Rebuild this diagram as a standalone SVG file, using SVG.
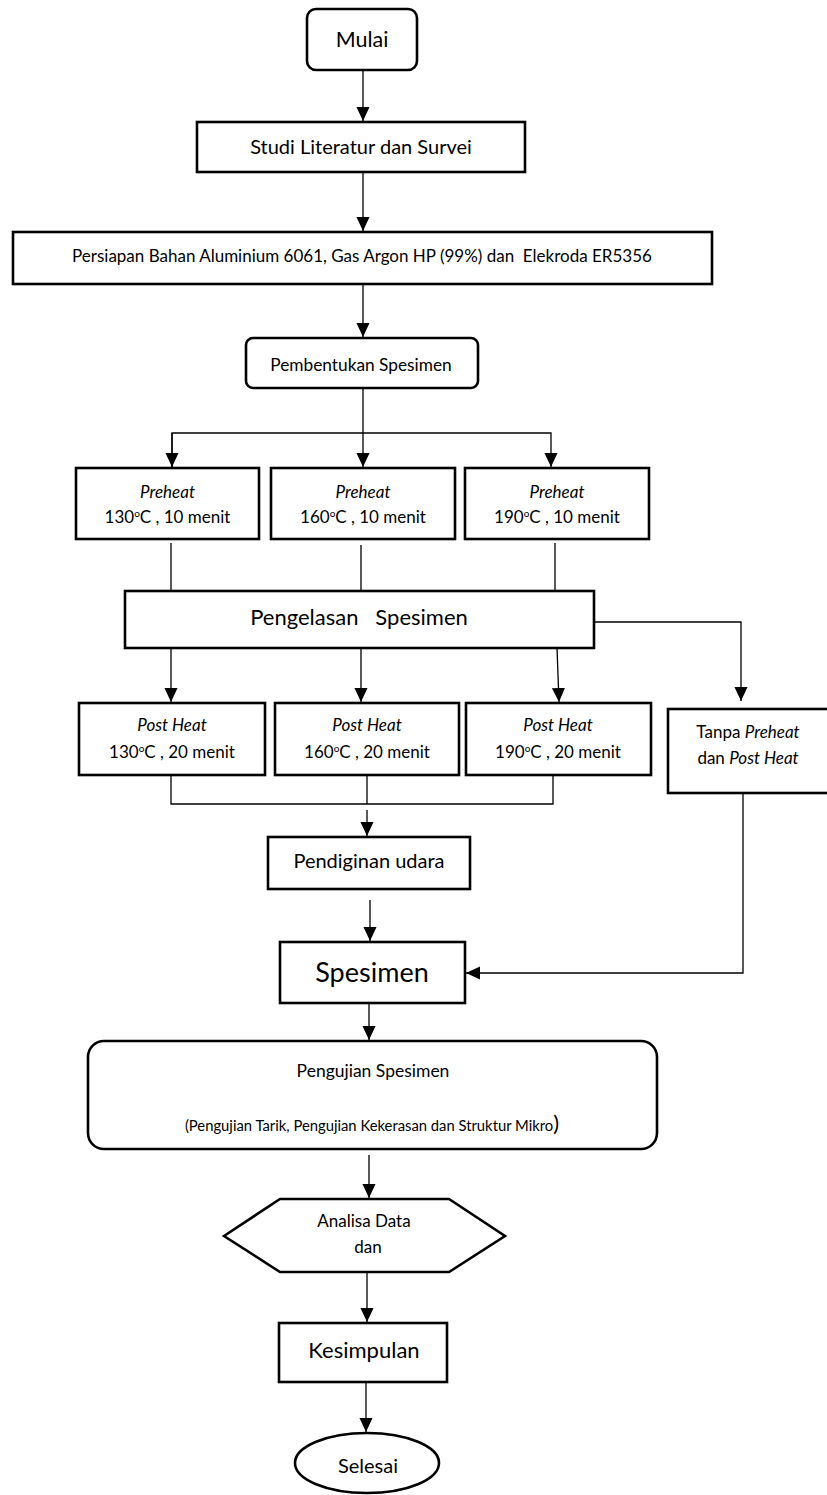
<svg xmlns="http://www.w3.org/2000/svg" width="827" height="1495" viewBox="0 0 827 1495">
<style>
.box{fill:#fff;stroke:#000;stroke-width:2.6}
.ln{fill:none;stroke:#000;stroke-width:1.3}
.t{font-family:Lato,"Liberation Sans",sans-serif;fill:#000;text-anchor:middle}
.i{font-style:italic}
</style>
<defs>
<marker id="ah" markerUnits="userSpaceOnUse" markerWidth="14" markerHeight="15" viewBox="0 0 15 14" refX="15" refY="7" orient="auto">
<path d="M0,0 L15,7 L0,14 z" fill="#000"/>
</marker>
</defs>
<rect width="827" height="1495" fill="#fff"/>
<g id="connectors">
<line class="ln" x1="363" y1="70" x2="363" y2="121" marker-end="url(#ah)"/>
<line class="ln" x1="363" y1="172" x2="363" y2="231" marker-end="url(#ah)"/>
<line class="ln" x1="363" y1="284" x2="363" y2="337" marker-end="url(#ah)"/>
<line class="ln" x1="363" y1="388" x2="363" y2="467" marker-end="url(#ah)"/>
<polyline class="ln" points="172,467 172,433 551,433 551,467" marker-end="url(#ah)"/>
<line class="ln" x1="172" y1="433" x2="172" y2="467" marker-end="url(#ah)"/>
<line class="ln" x1="171" y1="543" x2="171" y2="591"/>
<line class="ln" x1="361" y1="545" x2="361" y2="591"/>
<line class="ln" x1="555" y1="543" x2="555" y2="591"/>
<polyline class="ln" points="594,622 741,622 741,701" marker-end="url(#ah)"/>
<line class="ln" x1="171" y1="648" x2="171" y2="702" marker-end="url(#ah)"/>
<line class="ln" x1="361" y1="648" x2="361" y2="702" marker-end="url(#ah)"/>
<line class="ln" x1="557" y1="648" x2="559" y2="702" marker-end="url(#ah)"/>
<polyline class="ln" points="171,775 171,804 553,804 553,775"/>
<line class="ln" x1="367" y1="775" x2="367" y2="804"/>
<line class="ln" x1="367" y1="810" x2="367" y2="836" marker-end="url(#ah)"/>
<line class="ln" x1="370" y1="900" x2="370" y2="941" marker-end="url(#ah)"/>
<polyline class="ln" points="743,793 743,973 466,973" marker-end="url(#ah)"/>
<line class="ln" x1="369" y1="1003" x2="369" y2="1040" marker-end="url(#ah)"/>
<line class="ln" x1="369" y1="1155" x2="369" y2="1198" marker-end="url(#ah)"/>
<line class="ln" x1="367" y1="1268" x2="367" y2="1322" marker-end="url(#ah)"/>
<line class="ln" x1="366" y1="1382" x2="366" y2="1432" marker-end="url(#ah)"/>
</g>
<g id="mulai">
<rect class="box" x="307" y="9" width="110" height="61" rx="9"/>
<text class="t" x="362" y="47" font-size="21.5">Mulai</text>
</g>
<g id="studi">
<rect class="box" x="197" y="122" width="328" height="50"/>
<text class="t" x="361" y="154" font-size="20">Studi Literatur dan Survei</text>
</g>
<g id="persiapan">
<rect class="box" x="13" y="232" width="699" height="52"/>
<text class="t" x="362" y="262" font-size="17" xml:space="preserve">Persiapan Bahan Aluminium 6061, Gas Argon HP (99%) dan  Elekroda ER5356</text>
</g>
<g id="pembentukan">
<rect class="box" x="246" y="338" width="232" height="50" rx="7"/>
<text class="t" x="361" y="371" font-size="17.3">Pembentukan Spesimen</text>
</g>
<g id="preheat1">
<rect class="box" x="76" y="468" width="183" height="71"/>
<text class="t i" x="167.5" y="498" font-size="17">Preheat</text>
<text class="t" x="167.5" y="523" font-size="17">130<tspan font-size="10" dy="-6">o</tspan><tspan dy="6">C , 10 menit</tspan></text>
</g>
<g id="preheat2">
<rect class="box" x="271" y="468" width="184" height="71"/>
<text class="t i" x="363" y="498" font-size="17">Preheat</text>
<text class="t" x="363" y="523" font-size="17">160<tspan font-size="10" dy="-6">o</tspan><tspan dy="6">C , 10 menit</tspan></text>
</g>
<g id="preheat3">
<rect class="box" x="465" y="468" width="184" height="71"/>
<text class="t i" x="557" y="498" font-size="17">Preheat</text>
<text class="t" x="557" y="523" font-size="17">190<tspan font-size="10" dy="-6">o</tspan><tspan dy="6">C , 10 menit</tspan></text>
</g>
<g id="pengelasan">
<rect class="box" x="125" y="591" width="469" height="57"/>
<text class="t" x="359" y="625" font-size="22" xml:space="preserve">Pengelasan   Spesimen</text>
</g>
<g id="postheat1">
<rect class="box" x="79" y="703" width="186" height="72"/>
<text class="t i" x="172" y="731" font-size="17">Post Heat</text>
<text class="t" x="172" y="758" font-size="17">130<tspan font-size="10" dy="-6">o</tspan><tspan dy="6">C , 20 menit</tspan></text>
</g>
<g id="postheat2">
<rect class="box" x="275" y="703" width="184" height="72"/>
<text class="t i" x="367" y="731" font-size="17">Post Heat</text>
<text class="t" x="367" y="758" font-size="17">160<tspan font-size="10" dy="-6">o</tspan><tspan dy="6">C , 20 menit</tspan></text>
</g>
<g id="postheat3">
<rect class="box" x="466" y="703" width="185" height="72"/>
<text class="t i" x="558" y="731" font-size="17">Post Heat</text>
<text class="t" x="558" y="758" font-size="17">190<tspan font-size="10" dy="-6">o</tspan><tspan dy="6">C , 20 menit</tspan></text>
</g>
<g id="tanpa">
<rect class="box" x="668" y="709" width="164" height="84"/>
<text class="t" x="748" y="738" font-size="17">Tanpa <tspan class="i">Preheat</tspan></text>
<text class="t" x="748" y="764" font-size="17">dan <tspan class="i">Post Heat</tspan></text>
</g>
<g id="pendiginan">
<rect class="box" x="268" y="837" width="202" height="52"/>
<text class="t" x="369" y="868" font-size="20">Pendiginan udara</text>
</g>
<g id="spesimen">
<rect class="box" x="280" y="942" width="185" height="61"/>
<text class="t" x="372" y="982" font-size="27">Spesimen</text>
</g>
<g id="pengujian">
<rect class="box" x="88" y="1041" width="569" height="108" rx="16"/>
<text class="t" x="373" y="1077" font-size="17.5">Pengujian Spesimen</text>
<text class="t" x="372" y="1131" font-size="14.8">(Pengujian Tarik, Pengujian Kekerasan dan Struktur Mikro<tspan font-size="22">)</tspan></text>
</g>
<g id="analisa">
<polygon class="box" points="224,1236 280,1199 449,1199 505,1236 449,1272 280,1272"/>
<text class="t" x="364" y="1227" font-size="17">Analisa Data</text>
<text class="t" x="368" y="1253" font-size="17">dan</text>
</g>
<g id="kesimpulan">
<rect class="box" x="279" y="1323" width="168" height="59"/>
<text class="t" x="364" y="1358" font-size="22">Kesimpulan</text>
</g>
<g id="selesai">
<ellipse class="box" cx="367" cy="1463" rx="72" ry="30"/>
<text class="t" x="368" y="1473" font-size="20">Selesai</text>
</g>
</svg>
